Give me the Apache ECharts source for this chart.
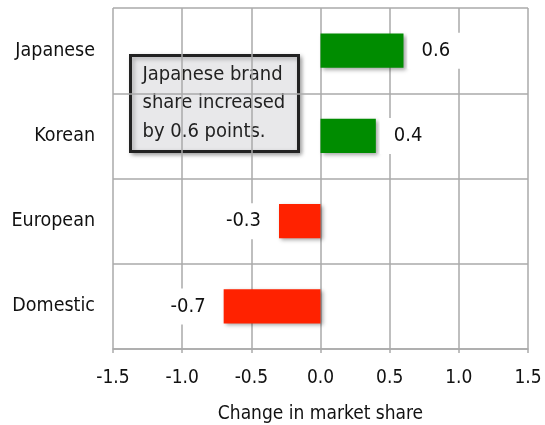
<!DOCTYPE html>
<html>
<head>
<meta charset="utf-8">
<script src="https://cdn.jsdelivr.net/npm/echarts@6/dist/echarts.min.js"></script>
<style>
  html, body { margin: 0; padding: 0; background: #fff; }
  #chart { width: 545px; height: 425px; }
</style>
</head>
<body>
<div id="chart"></div>
<script>
var categories = ['Japanese', 'Korean', 'European', 'Domestic'];
var changes = [0.6, 0.4, -0.3, -0.7];
var xTicks = [-1.5, 1.5, 0.5]; // min, max, interval
var note = 'Japanese brand\nshare increased\nby 0.6 points.';

var font = '"Liberation Sans Narrow", "DejaVu Sans Condensed", sans-serif';

var chart = echarts.init(document.getElementById('chart'));

var barData = changes.map(function (v) {
  var up = v >= 0;
  return {
    value: v,
    itemStyle: { color: up ? '#008c00' : '#ff2200' },
    label: { position: up ? 'right' : 'left' }
  };
});

var option = {
  animation: false,
  grid: { left: 113, right: 17, top: 8, bottom: 76, outerBoundsMode: 'none', containLabel: false },
  xAxis: {
    type: 'value',
    min: xTicks[0],
    max: xTicks[1],
    interval: xTicks[2],
    name: 'Change in market share',
    nameLocation: 'middle',
    nameGap: 56,
    nameTextStyle: { fontFamily: font, fontSize: 19, color: '#111' },
    axisLine: { show: true, lineStyle: { color: '#aaa', width: 1.5 } },
    axisTick: { show: true, length: 4, lineStyle: { color: '#aaa', width: 1.5 } },
    axisLabel: {
      fontFamily: font, fontSize: 19, color: '#111', margin: 20,
      formatter: function (v) { return v.toFixed(1); }
    },
    splitLine: { show: true, lineStyle: { color: '#aaa', width: 1.5 } }
  },
  yAxis: {
    type: 'category',
    data: categories,
    inverse: true,
    axisLine: { show: false },
    axisTick: { show: false },
    axisLabel: { fontFamily: font, fontSize: 19.5, color: '#111', margin: 18 },
    splitLine: { show: true, lineStyle: { color: '#aaa', width: 1.5 } }
  },
  series: [{
    type: 'bar',
    data: barData,
    barWidth: '40%',
    itemStyle: {
      shadowColor: 'rgba(0,0,0,0.35)',
      shadowBlur: 4,
      shadowOffsetX: 2,
      shadowOffsetY: 2
    },
    label: {
      show: true,
      distance: 4,
      fontFamily: font,
      fontSize: 20,
      color: '#111',
      backgroundColor: '#fff',
      padding: [10, 14, 6, 14],
      formatter: function (p) { return p.value.toFixed(1); }
    }
  }],
  graphic: [{
    type: 'group',
    left: 129,
    top: 54,
    children: [{
      type: 'rect',
      shape: { x: 0, y: 0, width: 168, height: 96 },
      style: {
        fill: '#e8e8ea',
        stroke: '#222',
        lineWidth: 3,
        shadowColor: 'rgba(0,0,0,0.3)',
        shadowBlur: 4,
        shadowOffsetX: 2,
        shadowOffsetY: 2
      }
    }, {
      type: 'text',
      x: 12,
      y: 5,
      style: {
        text: note,
        fontFamily: font,
        fontSize: 20,
        lineHeight: 28.5,
        fill: '#222'
      }
    }]
  }]
};

chart.setOption(option);
</script>
</body>
</html>
